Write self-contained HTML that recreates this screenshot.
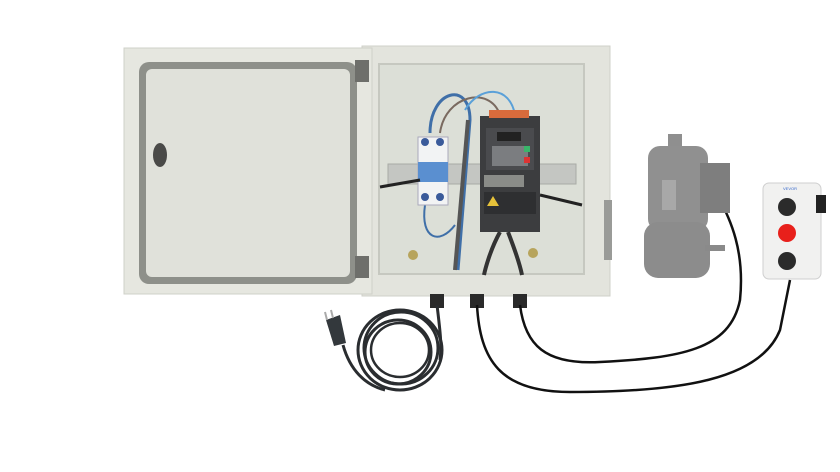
<!DOCTYPE html>
<html><head><style>
html,body{margin:0;padding:0;background:#fff;width:840px;height:472px;overflow:hidden}
</style></head><body>
<svg width="840" height="472" viewBox="0 0 840 472" xmlns="http://www.w3.org/2000/svg">
<rect width="840" height="472" fill="#fff"/>
<!-- body -->
<rect x="362" y="46" width="248" height="250" fill="#e3e4dd" stroke="#cfd0c9"/>
<rect x="379" y="64" width="205" height="210" fill="#dcdfd7" stroke="#c6c8c0" stroke-width="2"/>
<rect x="604" y="200" width="8" height="60" fill="#9a9b98"/>
<!-- door -->
<rect x="124" y="48" width="248" height="246" fill="#e6e7e0" stroke="#cfd0c9"/>
<rect x="139" y="62" width="218" height="222" rx="10" fill="#8e908a"/>
<rect x="146" y="69" width="204" height="208" rx="6" fill="#e0e1da"/>
<ellipse cx="160" cy="155" rx="7" ry="12" fill="#4a4a48"/>
<rect x="355" y="60" width="14" height="22" fill="#6e6f6b"/>
<rect x="355" y="256" width="14" height="22" fill="#6e6f6b"/>
<!-- rail -->
<rect x="388" y="164" width="188" height="20" fill="#c4c6c2" stroke="#a9aba6"/>
<!-- wires -->
<path d="M430 133 C430 90 470 80 470 120 L458 270" stroke="#3f6fa8" stroke-width="3" fill="none"/>
<path d="M440 133 C445 95 490 85 500 115" stroke="#7a6a60" stroke-width="2" fill="none"/>
<path d="M465 110 C480 85 510 85 515 115" stroke="#5aa0d8" stroke-width="2" fill="none"/>
<path d="M468 120 L455 270" stroke="#555" stroke-width="4" fill="none"/>
<path d="M425 205 C420 240 440 245 455 225" stroke="#3f6fa8" stroke-width="2" fill="none"/>
<!-- breaker -->
<rect x="418" y="137" width="30" height="68" fill="#f2f3f4" stroke="#aab"/>
<rect x="418" y="162" width="30" height="20" fill="#5a8fd0"/>
<circle cx="425" cy="142" r="4" fill="#3a5a9a"/><circle cx="440" cy="142" r="4" fill="#3a5a9a"/>
<circle cx="425" cy="197" r="4" fill="#3a5a9a"/><circle cx="440" cy="197" r="4" fill="#3a5a9a"/>
<!-- VFD -->
<rect x="480" y="116" width="60" height="116" fill="#3c3d3f"/>
<rect x="486" y="128" width="48" height="42" fill="#4a4b4e"/>
<rect x="497" y="132" width="24" height="9" fill="#222"/>
<rect x="492" y="146" width="36" height="20" fill="#7b7d80"/>
<rect x="524" y="146" width="6" height="6" fill="#39b56a"/><rect x="524" y="157" width="6" height="6" fill="#d33"/>
<rect x="484" y="175" width="40" height="12" fill="#8a8c88"/>
<rect x="484" y="192" width="52" height="22" fill="#2e2f31"/>
<polygon points="493,196 499,206 487,206" fill="#e6c23a"/>
<rect x="489" y="110" width="40" height="8" fill="#d86b3c"/>
<path d="M500 232 C490 250 485 270 484 275" stroke="#333" stroke-width="4" fill="none"/>
<path d="M508 232 C515 250 520 265 522 275" stroke="#333" stroke-width="4" fill="none"/>
<path d="M540 195 L582 205" stroke="#222" stroke-width="3"/>
<path d="M380 187 L420 180" stroke="#222" stroke-width="3"/>
<circle cx="413" cy="255" r="5" fill="#b7a45c"/><circle cx="533" cy="253" r="5" fill="#b7a45c"/>
<!-- glands -->
<rect x="430" y="294" width="14" height="14" fill="#2a2a2a"/>
<rect x="470" y="294" width="14" height="14" fill="#2a2a2a"/>
<rect x="513" y="294" width="14" height="14" fill="#2a2a2a"/>
<!-- cables -->
<path d="M477 305 C480 360 500 392 570 392 C680 392 760 380 780 330 L790 280" stroke="#111" stroke-width="2.5" fill="none"/>
<path d="M520 305 C525 345 545 365 600 362 C680 358 730 350 740 300 C745 250 730 220 720 200" stroke="#111" stroke-width="2.5" fill="none"/>
<!-- power cord -->
<path d="M437 305 C440 330 442 345 440 360" stroke="#2a2d30" stroke-width="3" fill="none"/>
<ellipse cx="400" cy="350" rx="42" ry="40" fill="none" stroke="#2a2d30" stroke-width="3"/>
<ellipse cx="401" cy="348" rx="37" ry="36" fill="none" stroke="#2a2d30" stroke-width="3"/>
<ellipse cx="398" cy="352" rx="33" ry="32" fill="none" stroke="#2a2d30" stroke-width="3"/>
<ellipse cx="400" cy="350" rx="29" ry="27" fill="none" stroke="#2a2d30" stroke-width="2.5"/>
<path d="M343 345 C350 370 365 385 385 390" stroke="#2a2d30" stroke-width="3" fill="none"/>
<polygon points="326,320 340,315 346,343 334,346" fill="#33383c"/>
<line x1="327" y1="320" x2="325" y2="312" stroke="#aaa" stroke-width="2"/>
<line x1="333" y1="318" x2="331" y2="310" stroke="#aaa" stroke-width="2"/>
<!-- motor -->
<rect x="668" y="134" width="14" height="12" fill="#8f8f8f"/>
<rect x="648" y="146" width="60" height="85" rx="12" fill="#909090"/>
<rect x="644" y="222" width="66" height="56" rx="14" fill="#8c8c8c"/>
<rect x="700" y="163" width="30" height="50" fill="#7e7e7e"/>
<rect x="662" y="180" width="14" height="30" fill="#a8a8a8"/>
<rect x="705" y="245" width="20" height="6" fill="#8a8a8a"/>
<!-- push box -->
<rect x="763" y="183" width="58" height="96" rx="6" fill="#f1f1f0" stroke="#cfcfcf"/>
<rect x="816" y="195" width="10" height="18" fill="#222"/>
<circle cx="787" cy="207" r="9" fill="#2b2b2b"/>
<circle cx="787" cy="233" r="9" fill="#e8201b"/>
<circle cx="787" cy="261" r="9" fill="#2b2b2b"/>
<text x="783" y="190" font-family="Liberation Sans, sans-serif" font-size="4" fill="#36c">VEVOR</text>
</svg>
</body></html>
